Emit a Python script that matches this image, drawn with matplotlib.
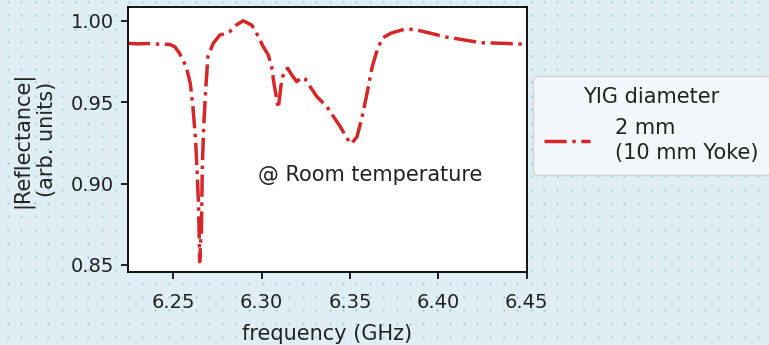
import matplotlib
matplotlib.use("Agg")
import matplotlib.pyplot as plt
import numpy as np

plt.rcParams['font.family'] = ['DejaVu Sans']

# reflectance trace (GHz, arb. units)
freq = [6.2245, 6.2300, 6.2360, 6.2420, 6.2480, 6.2510, 6.2536, 6.2574, 6.2597,
        6.2612, 6.2627, 6.2637, 6.2644, 6.2650, 6.2656, 6.2660, 6.2665, 6.2673,
        6.2684, 6.2697, 6.2726, 6.2764, 6.2802, 6.2820, 6.2858, 6.2896, 6.2944,
        6.2972, 6.3010, 6.3038, 6.3057, 6.3070, 6.3095, 6.3105, 6.3114, 6.3133,
        6.3148, 6.3171, 6.3199, 6.3228, 6.3247, 6.3275, 6.3313, 6.3370, 6.3407,
        6.3445, 6.3483, 6.3508, 6.3540, 6.3569, 6.3597, 6.3626, 6.3654, 6.3682,
        6.3730, 6.3805, 6.3862, 6.3957, 6.4032, 6.4146, 6.4241, 6.4373, 6.4500]
refl = [0.9861, 0.9858, 0.9860, 0.9856, 0.9855, 0.9840, 0.9800, 0.9718, 0.9616,
        0.9470, 0.9268, 0.9040, 0.8860, 0.8520, 0.8650, 0.8700, 0.9104, 0.9350,
        0.9575, 0.9780, 0.9860, 0.9912, 0.9923, 0.9933, 0.9974, 1.0000, 0.9974,
        0.9923, 0.9840, 0.9790, 0.9718, 0.9616, 0.9463, 0.9555, 0.9636, 0.9698,
        0.9708, 0.9667, 0.9626, 0.9653, 0.9642, 0.9595, 0.9534, 0.9472, 0.9411,
        0.9350, 0.9278, 0.9244, 0.9288, 0.9411, 0.9555, 0.9718, 0.9820, 0.9892,
        0.9923, 0.9947, 0.9947, 0.9923, 0.9902, 0.9882, 0.9865, 0.9861, 0.9855]

xticks = [6.25, 6.30, 6.35, 6.40, 6.45]
yticks = [0.85, 0.90, 0.95, 1.00]

bg = '#deeef4'
txt = '#222222'
fig = plt.figure(figsize=(7.69, 3.45), dpi=100, facecolor=bg)

# dotted backdrop
bgax = fig.add_axes([0, 0, 1, 1], zorder=-5)
bgax.set_xlim(0, 769)
bgax.set_ylim(345, 0)
gx, gy = np.meshgrid(np.arange(8, 769, 13.4), np.arange(2, 345, 13.4))
bgax.scatter(gx.ravel(), gy.ravel(), s=2.5, color='#9fd0da', lw=0)
bgax.axis('off')

ax = fig.add_axes([0.1665, 0.2116, 0.5185, 0.767])
ax.plot(freq, refl, color='#d62728', lw=2.5, ls='-.',
        label='2 mm\n(10 mm Yoke)')
ax.set_xlim(6.2245, 6.45)
ax.set_ylim(0.8457, 1.0082)
ax.set_xticks(xticks)
ax.set_yticks(yticks)
ax.set_xticklabels(['%.2f' % t for t in xticks])
ax.set_yticklabels(['%.2f' % t for t in yticks])
ax.tick_params(labelsize=14, length=5, width=1.2, labelcolor=txt)
ax.tick_params(axis='x', pad=10)
ax.tick_params(axis='y', pad=5)
for s in ax.spines.values():
    s.set_linewidth(1.3)
ax.set_xlabel('frequency (GHz)', fontsize=15, color=txt, labelpad=9)
ax.set_ylabel('|Reflectance|\n(arb. units)', fontsize=15, color=txt,
              labelpad=10, linespacing=1.2)
ax.text(6.3616, 0.9053, '@ Room temperature', fontsize=15, color=txt,
        ha='center', va='center')

leg = ax.legend(title='YIG diameter', loc='upper left',
                bbox_to_anchor=(533 / 769, 1 - 76 / 345),
                bbox_transform=fig.transFigure, fontsize=15,
                title_fontsize=15, frameon=True, handlelength=2.2,
                handletextpad=1.2, borderaxespad=0, borderpad=0.55,
                fancybox=True)
leg.get_frame().set_facecolor('#f6fafc')
leg.get_frame().set_edgecolor('#cccccc')
leg.get_frame().set_alpha(0.85)
for t in leg.get_texts():
    t.set_color(txt)
    t.set_linespacing(1.35)
leg.get_title().set_color(txt)

fig.savefig('out.png', dpi=100, facecolor=bg)
